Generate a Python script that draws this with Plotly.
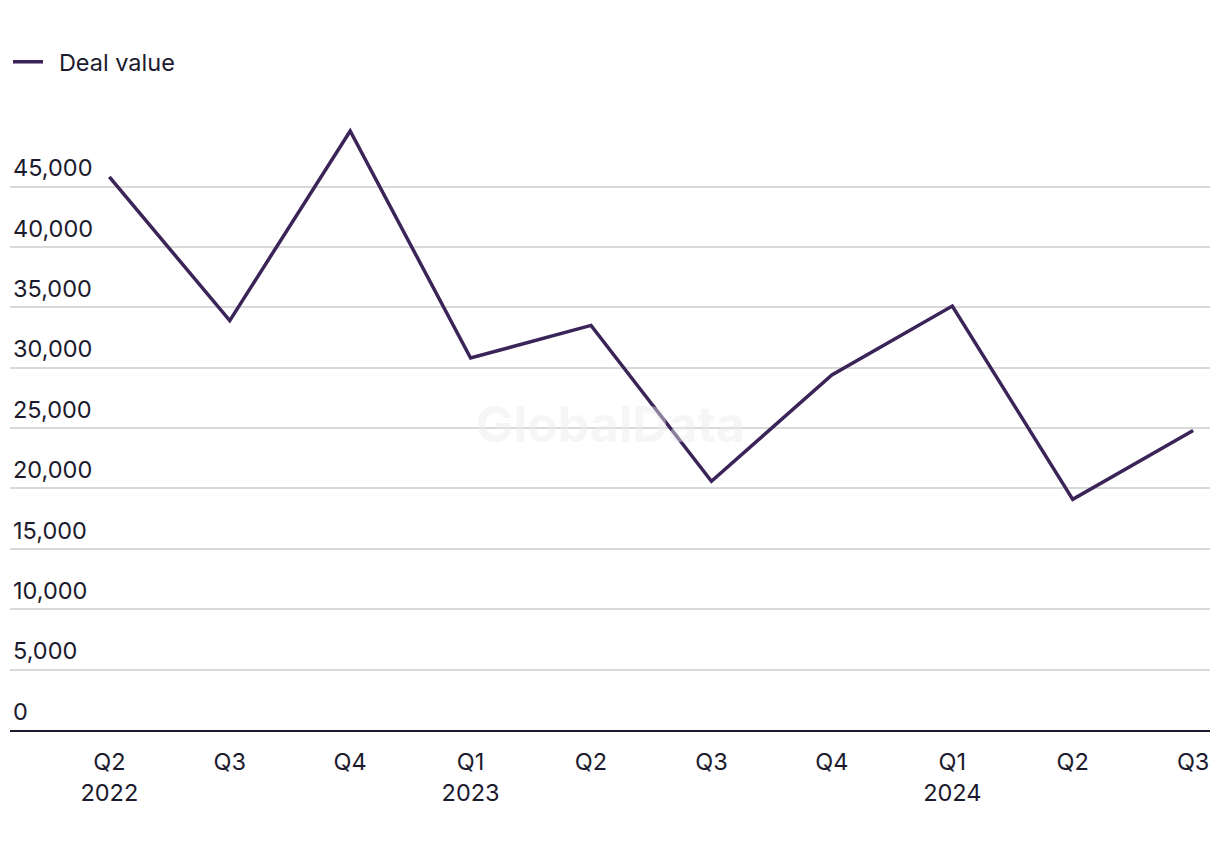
import plotly.graph_objects as go

quarters = ["Q2<br>2022", "Q3", "Q4", "Q1<br>2023", "Q2", "Q3", "Q4", "Q1<br>2024", "Q2", "Q3"]
deal_value = [45800, 33900, 49600, 30800, 33500, 20600, 29400, 35100, 19100, 24800]
y_ticks = [0, 5000, 10000, 15000, 20000, 25000, 30000, 35000, 40000, 45000]
y_tick_labels = ["0", "5,000", "10,000", "15,000", "20,000", "25,000", "30,000", "35,000", "40,000", "45,000"]

FONT = "Inter"
TEXT = "#1c1b2e"
LINE = "#3a2458"
FS = 23.5

x_idx = list(range(len(quarters)))

fig = go.Figure()
fig.add_trace(go.Scatter(
    x=x_idx, y=deal_value, mode="lines", name="\u00a0\u2009Deal value",
    line=dict(color=LINE, width=3.5),
))

# page has an 8px body margin: figure is 1212x842 placed at (8,8)
fig.update_layout(
    width=1212, height=842,
    margin=dict(l=2, r=10, t=94, b=120),
    paper_bgcolor="white", plot_bgcolor="white",
    font=dict(family=FONT, size=FS, color=TEXT),
    showlegend=True,
    legend=dict(orientation="h", x=-0.005, xanchor="left",
                y=1 - 54 / 842, yref="container", yanchor="middle",
                font=dict(size=FS, color=TEXT)),
    xaxis=dict(
        tickmode="array", tickvals=x_idx, ticktext=quarters,
        range=[-0.825, 9.14], showgrid=False, zeroline=False,
        showline=True, linecolor="#1c1b2e", linewidth=2,
        ticks="", ticklabelstandoff=10, tickfont=dict(size=FS, color=TEXT),
    ),
    yaxis=dict(
        tickmode="array", tickvals=y_ticks, ticktext=y_tick_labels,
        range=[0, 52000], showgrid=True, gridcolor="#d9d9d9", gridwidth=1.5,
        zeroline=False, showline=False, ticks="",
        ticklabelposition="inside top", ticklabelshift=-2,
        tickfont=dict(size=FS, color=TEXT),
    ),
    annotations=[dict(
        text="<b>GlobalData</b>", x=0.5, y=0.488, xref="paper", yref="paper",
        showarrow=False, font=dict(size=50, family=FONT, color="rgba(235,235,235,0.45)"),
    )],
)

fig.write_html("out.html")
